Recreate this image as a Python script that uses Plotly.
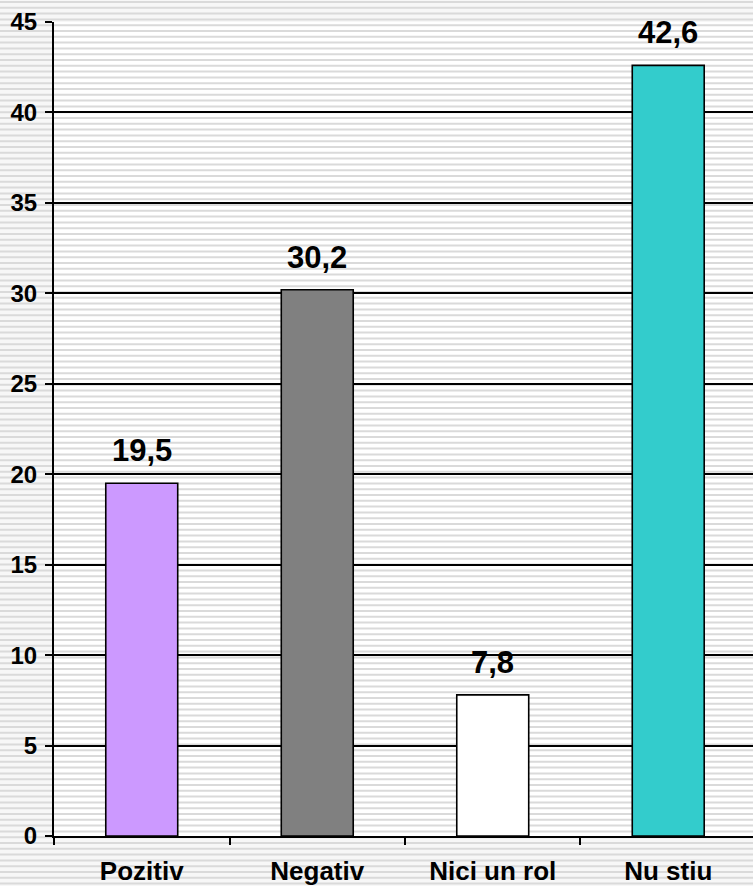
import plotly.graph_objects as go

categories = ["Pozitiv", "Negativ", "Nici un rol", "Nu stiu"]
values = [19.5, 30.2, 7.8, 42.6]
bar_colors = ["#cc99ff", "#808080", "#ffffff", "#33cccc"]
y_ticks = [0, 5, 10, 15, 20, 25, 30, 35, 40, 45]

W, H = 753, 886
ML, MR, MT, MB = 54, 0, 22, 50
plot_h = H - MT - MB

FONT = "Liberation Sans, Arial, sans-serif"

fig = go.Figure()
fig.add_trace(go.Bar(
    x=categories, y=values,
    marker=dict(color=bar_colors, line=dict(color="#000000", width=1.6)),
    width=0.41, cliponaxis=False, hoverinfo="skip",
))

for c, v in zip(categories, values):
    fig.add_annotation(
        x=c, y=v, text=("%.1f" % v).replace(".", ","),
        showarrow=False, yanchor="bottom", yshift=13,
        font=dict(family=FONT, size=31, color="#000000", weight="bold"),
    )

# striped page background (decorative)
shapes = []
y = 2
while y < H:
    py = (H - MB - y) / plot_h
    shapes.append(dict(type="line", xref="paper", yref="paper",
                       x0=-0.2, x1=1.1, y0=py, y1=py,
                       line=dict(color="#dadada", width=2), layer="below"))
    y += 5.8

fig.update_layout(
    width=W, height=H,
    margin=dict(l=ML, r=MR, t=MT, b=MB, pad=0),
    paper_bgcolor="#f7f7f7", plot_bgcolor="#ffffff",
    showlegend=False, shapes=shapes,
    font=dict(family=FONT, color="#000000"),
)
fig.update_xaxes(
    type="category", range=[-0.5, 3.483],
    showline=True, linecolor="#000000", linewidth=2,
    ticks="outside", tickson="boundaries", ticklen=7, tickwidth=1.6, tickcolor="#000000",
    tickfont=dict(family=FONT, size=26, color="#000000", weight="bold"),
    ticklabelstandoff=11, automargin=False,
    showgrid=False, zeroline=False, fixedrange=True,
)
fig.update_yaxes(
    range=[0, 45], tickvals=y_ticks,
    showline=True, linecolor="#000000", linewidth=2,
    ticks="outside", ticklen=7, tickwidth=1.6, tickcolor="#000000",
    tickfont=dict(family=FONT, size=24, color="#000000", weight="bold"),
    ticklabelstandoff=3, automargin=False,
    showgrid=True, gridcolor="#000000", gridwidth=1.6,
    zeroline=False, fixedrange=True,
)

fig.write_html("out.html", config={"displayModeBar": False},
               post_script="document.body.style.margin='0px';")
